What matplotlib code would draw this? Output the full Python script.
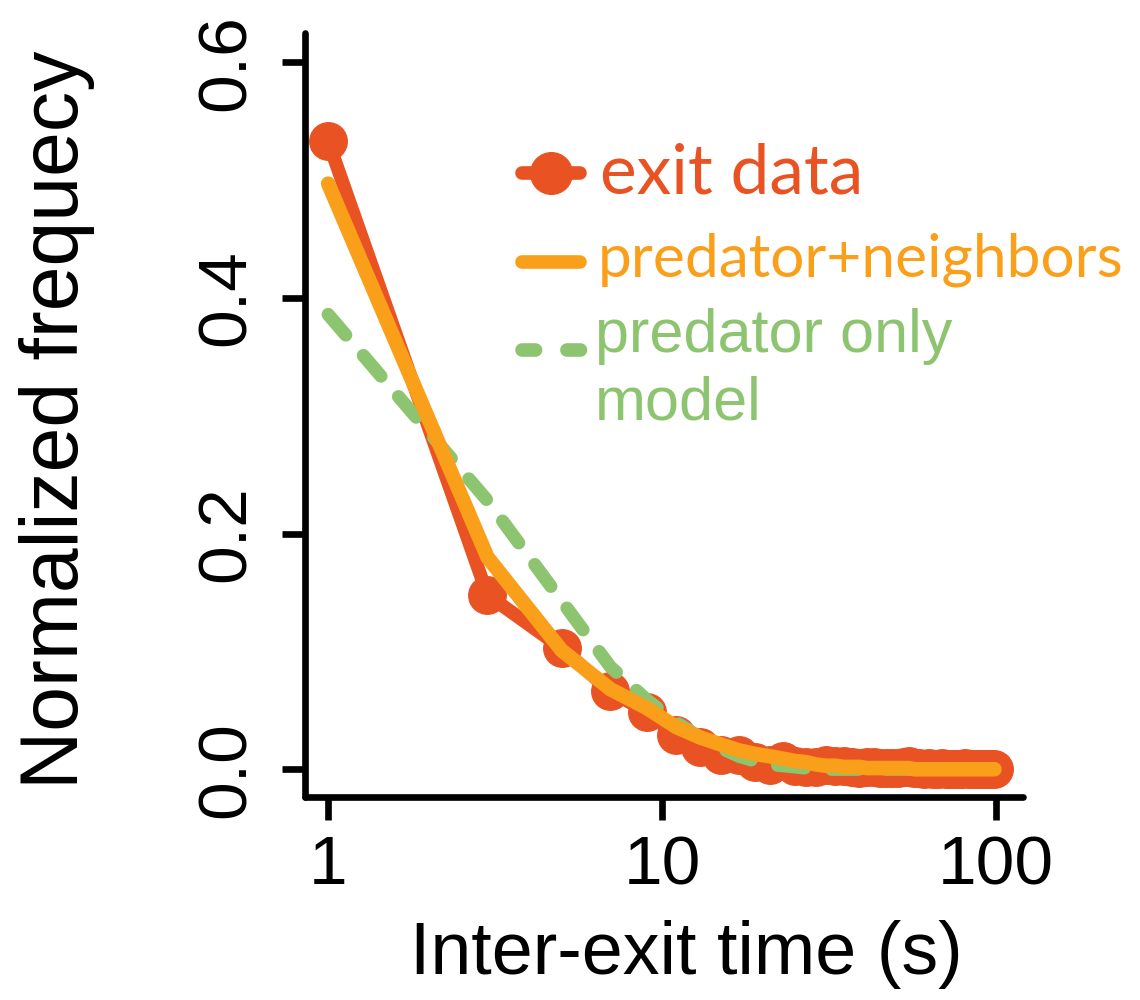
import matplotlib
matplotlib.use("Agg")
import matplotlib.pyplot as plt

plt.rcParams['font.family'] = ['Liberation Sans', 'DejaVu Sans']

# bin centres of inter-exit time (s), 2 s wide bins
bins = [1, 3, 5, 7, 9, 11, 13, 15, 17, 19,
        21, 23, 25, 27, 29, 31, 33, 35, 37, 39,
        41, 43, 45, 47, 49, 51, 53, 55, 57, 59,
        61, 63, 65, 67, 69, 71, 73, 75, 77, 79,
        81, 83, 85, 87, 89, 91, 93, 95, 97, 99]

exit_data = [0.533, 0.148, 0.103, 0.066, 0.049, 0.029, 0.019, 0.012, 0.012, 0.006,
             0.004, 0.007, 0.003, 0.002, 0.002, 0.004, 0.003, 0.003, 0.002, 0.001,
             0.002, 0.002, 0.001, 0.001, 0.001, 0.001, 0.002, 0.003, 0.001, 0.001,
             0.000, 0.001, 0.000, 0.000, 0.001, 0.000, 0.000, 0.000, 0.000, 0.000,
             0.001, 0.000, 0.000, 0.000, 0.000, 0.000, 0.000, 0.000, 0.000, 0.000]

pred_neigh = [0.497, 0.180, 0.101, 0.068, 0.052, 0.036, 0.027, 0.021, 0.016, 0.013,
              0.011, 0.009, 0.007, 0.006, 0.004, 0.003, 0.003, 0.002, 0.002, 0.002,
              0.001, 0.001, 0.001, 0.001, 0.001, 0.001, 0.001, 0.001, 0.000, 0.000,
              0.000, 0.000, 0.000, 0.000, 0.000, 0.000, 0.000, 0.000, 0.000, 0.000,
              0.000, 0.000, 0.000, 0.000, 0.000, 0.000, 0.000, 0.000, 0.000, 0.000]

pred_only = [0.386, 0.228, 0.143, 0.087, 0.059, 0.040, 0.027, 0.018, 0.011, 0.007,
             0.004, 0.003, 0.002, 0.001, 0.001, 0.000, 0.000, 0.000, 0.000, 0.000,
             0.000, 0.000, 0.000, 0.000, 0.000, 0.000, 0.000, 0.000, 0.000, 0.000,
             0.000, 0.000, 0.000, 0.000, 0.000, 0.000, 0.000, 0.000, 0.000, 0.000,
             0.000, 0.000, 0.000, 0.000, 0.000, 0.000, 0.000, 0.000, 0.000, 0.000]

xticks = [1, 10, 100]
xticklabels = ['1', '10', '100']
yticks = [0.0, 0.2, 0.4, 0.6]
yticklabels = ['0.0', '0.2', '0.4', '0.6']

RED = '#E95324'
ORANGE = '#FA9F1A'
GREEN = '#8DC46F'

fig = plt.figure(figsize=(11.4, 10), dpi=100)
ax = fig.add_axes([0.2675, 0.2027, 0.6296, 0.764])

lw = 9.8
ax.plot(bins, exit_data, color=RED, lw=lw, marker='o', ms=27, mec=RED,
        solid_capstyle='round', solid_joinstyle='round', zorder=2)
ax.plot(bins, pred_only, color=GREEN, lw=9.5, linestyle=(0, (2.05, 2.05)),
        dash_capstyle='round', zorder=3)
ax.plot(bins, pred_neigh, color=ORANGE, lw=10.5,
        solid_capstyle='round', solid_joinstyle='round', zorder=4)

ax.set_xscale('log')
ax.set_xlim(0.852, 120.3)
ax.set_ylim(-0.0238, 0.6246)
ax.set_xticks(xticks)
ax.set_xticklabels(xticklabels)
ax.minorticks_off()
ax.set_yticks(yticks)
ax.set_yticklabels(yticklabels, rotation=90, va='center')

for s in ['top', 'right']:
    ax.spines[s].set_visible(False)
for s in ['left', 'bottom']:
    ax.spines[s].set_linewidth(4.8)
    ax.spines[s].set_capstyle('round')
ax.tick_params(axis='both', length=16.5, width=4.8, labelsize=50)
ax.tick_params(axis='x', pad=10)
ax.tick_params(axis='y', pad=17)

ax.set_xlabel('Inter-exit time (s)', fontsize=53, labelpad=16, x=0.531)
ax.set_ylabel('Normalized frequecy', fontsize=58)
ax.yaxis.set_label_coords(-0.293, 0.494)

# legend, drawn by hand in axes coordinates
tr = ax.transAxes
ax.plot([0.3024, 0.3832], [0.8171, 0.8171], transform=tr, color=RED, lw=lw,
        solid_capstyle='round', clip_on=False)
ax.plot([0.3428], [0.8171], transform=tr, marker='o', ms=30, color=RED, clip_on=False)
ax.plot([0.3024, 0.3832], [0.7007, 0.7007], transform=tr, color=ORANGE, lw=lw,
        solid_capstyle='round', clip_on=False)
ax.plot([0.3024, 0.386], [0.5855, 0.5855], transform=tr, color=GREEN, lw=lw,
        linestyle=(0, (1.0, 2.3)), dash_capstyle='round', clip_on=False)

ax.text(0.411, 0.7906, 'exit data', transform=tr, color=RED, fontsize=50,
        family=['Lato', 'DejaVu Sans'], va='baseline', ha='left')
ax.text(0.408, 0.6814, 'predator+neighbors', transform=tr, color=ORANGE, fontsize=43.5,
        family=['Lato', 'DejaVu Sans'], va='baseline', ha='left')
ax.text(0.404, 0.5833, 'predator only', transform=tr, color=GREEN, fontsize=44,
        va='baseline', ha='left')
ax.text(0.404, 0.4939, 'model', transform=tr, color=GREEN, fontsize=44,
        va='baseline', ha='left')

fig.savefig('out.png', dpi=100)
